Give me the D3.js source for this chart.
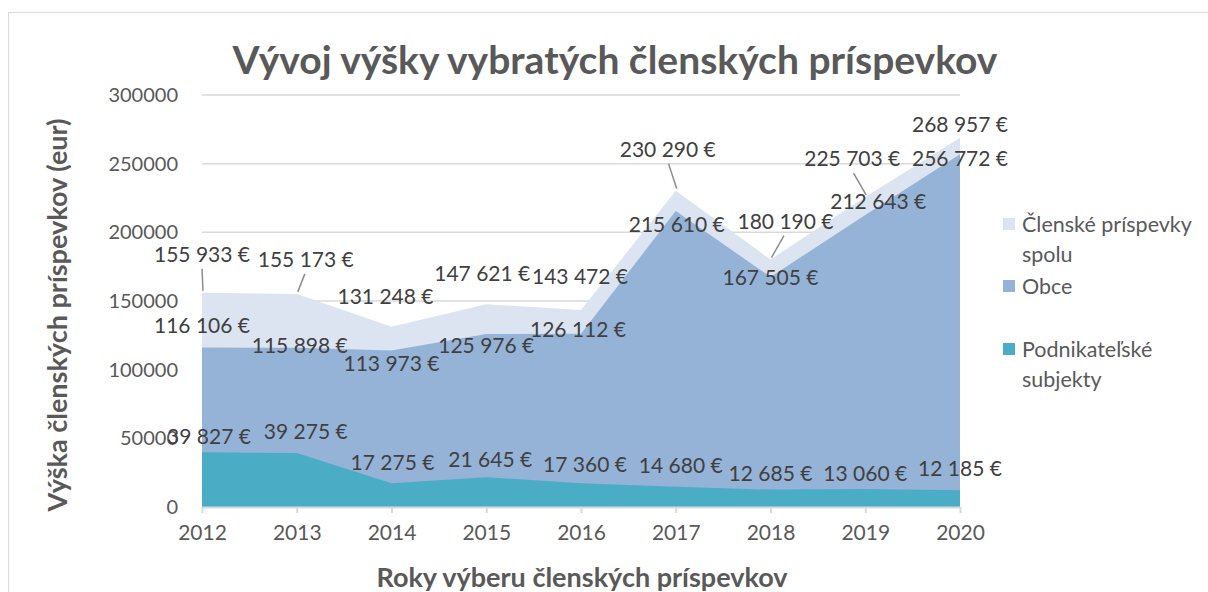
<!DOCTYPE html>
<html>
<head>
<meta charset="utf-8">
<script src="https://cdn.jsdelivr.net/npm/d3@7"></script>
<style>
  body { margin: 0; background: #fff; }
  text { font-family: Lato, "Open Sans", sans-serif; }
</style>
</head>
<body>
<div id="chart-area"></div>
<script>
// data
var years = [2012, 2013, 2014, 2015, 2016, 2017, 2018, 2019, 2020];
var spolu = [155933, 155173, 131248, 147621, 143472, 230290, 180190, 225703, 268957];
var obce = [116106, 115898, 113973, 125976, 126112, 215610, 167505, 212643, 256772];
var podnik = [39827, 39275, 17275, 21645, 17360, 14680, 12685, 13060, 12185];
var yTicks = [0, 50000, 100000, 150000, 200000, 250000, 300000];

var seriesNames = ["Členské príspevky spolu", "Obce", "Podnikateľské subjekty"];
var colors = ["#dbe4f0", "#95b3d7", "#4bacc6"];

// label offsets (dx, dy) from each point, hand placed like the original
var spoluOff = [[0,-38],[9,-34],[-6,-30],[-4,-31],[-1,-33],[-8,-41],[15,-38],[-13,-38],[0,-13]];
var obceOff = [[0,-22],[3,-2],[0,13],[0,12],[-3,-4],[1,14],[0,1],[13,-13],[0,4]];
var podnikOff = [[7,-16],[9,-21],[1,-21],[4,-18],[4,-19],[5,-21],[0,-16],[0,-15],[0,-22]];
// leader lines only for these points of the total series
var leaders = [0, 1, 5, 6, 7];

var svgWidth = 1208, svgHeight = 592;
var margin = { top: 95, left: 202, bottom: 85, right: 248 };
var width = svgWidth - margin.left - margin.right;
var height = svgHeight - margin.top - margin.bottom;

var svg = d3.select("#chart-area").append("svg")
    .attr("width", svgWidth)
    .attr("height", svgHeight);

// chart frame
svg.append("rect")
    .attr("x", 8.5).attr("y", 12.5)
    .attr("width", 1210).attr("height", 600)
    .attr("fill", "none")
    .attr("stroke", "#d9d9d9");

var graph = svg.append("g")
    .attr("transform", "translate(" + margin.left + "," + margin.top + ")");

var xScale = d3.scalePoint().domain(years).range([0, width]);
var yScale = d3.scaleLinear().domain([0, 300000]).range([height, 0]);

// gridlines
graph.append("g")
    .selectAll("line")
    .data(yTicks.slice(1))
    .enter().append("line")
    .attr("x1", 0).attr("x2", width)
    .attr("y1", d => yScale(d)).attr("y2", d => yScale(d))
    .attr("stroke", "#d9d9d9")
    .attr("stroke-width", 1.5);

// areas (overlapping, not stacked)
var allSeries = [spolu, obce, podnik];
allSeries.forEach(function(vals, i) {
    var area = d3.area()
        .x((d, j) => xScale(years[j]))
        .y0(height)
        .y1(d => yScale(d));
    graph.append("path")
        .datum(vals)
        .attr("d", area)
        .attr("fill", colors[i]);
});

// y axis
var yAxisCall = d3.axisLeft(yScale).tickValues(yTicks).tickSize(0).tickFormat(d => d);
var yAxis = graph.append("g").attr("class", "y-axis").call(yAxisCall);
yAxis.select(".domain").remove();
yAxis.selectAll("text")
    .attr("x", -24)
    .attr("fill", "#595959")
    .attr("font-size", "20px");

// x axis
var xAxisCall = d3.axisBottom(xScale).tickSize(6).tickSizeOuter(0);
var xAxis = graph.append("g")
    .attr("class", "x-axis")
    .attr("transform", "translate(0," + height + ")")
    .call(xAxisCall);
xAxis.select(".domain").attr("stroke", "#d9d9d9").attr("stroke-width", 2);
xAxis.selectAll(".tick line").attr("stroke", "#d9d9d9").attr("stroke-width", 2);
xAxis.selectAll("text")
    .attr("y", 18)
    .attr("fill", "#595959")
    .attr("font-size", "21px");

// leader lines
graph.append("g")
    .selectAll("line")
    .data(leaders)
    .enter().append("line")
    .attr("x1", i => xScale(years[i]) + spoluOff[i][0] * 0.9)
    .attr("y1", i => yScale(spolu[i]) + spoluOff[i][1] + 14)
    .attr("x2", i => xScale(years[i]) + 1)
    .attr("y2", i => yScale(spolu[i]) - 2)
    .attr("stroke", "#8c8c8c")
    .attr("stroke-width", 1.5);

// data labels
function fmt(v) {
    return d3.format(",")(v).replace(/,/g, " ") + " €";
}
var offsets = [spoluOff, obceOff, podnikOff];
allSeries.forEach(function(vals, i) {
    graph.append("g")
        .selectAll("text")
        .data(vals)
        .enter().append("text")
        .attr("x", (d, j) => xScale(years[j]) + offsets[i][j][0])
        .attr("y", (d, j) => yScale(d) + offsets[i][j][1])
        .attr("dy", "0.35em")
        .attr("text-anchor", "middle")
        .attr("fill", "#404040")
        .attr("font-size", "21px")
        .text(d => fmt(d));
});

// title
svg.append("text")
    .attr("x", 615).attr("y", 74)
    .attr("text-anchor", "middle")
    .attr("font-size", "39px")
    .attr("font-weight", "bold")
    .attr("fill", "#595959")
    .text("Vývoj výšky vybratých členských príspevkov");

// y axis label
svg.append("text")
    .attr("transform", "translate(67," + 315 + ") rotate(-90)")
    .attr("text-anchor", "middle")
    .attr("font-size", "27px")
    .attr("font-weight", "bold")
    .attr("fill", "#595959")
    .text("Výška členských príspevkov (eur)");

// x axis label
svg.append("text")
    .attr("x", 582).attr("y", 587)
    .attr("text-anchor", "middle")
    .attr("font-size", "27px")
    .attr("font-weight", "bold")
    .attr("fill", "#595959")
    .text("Roky výberu členských príspevkov");

// legend
var legendLines = [["Členské príspevky", "spolu"], ["Obce"], ["Podnikateľské", "subjekty"]];
var legendY = [218, 280, 343];
var legend = svg.append("g").attr("class", "legend");
legendLines.forEach(function(lines, i) {
    legend.append("rect")
        .attr("x", 1003).attr("y", legendY[i])
        .attr("width", 12).attr("height", 12)
        .attr("fill", colors[i]);
    lines.forEach(function(t, k) {
        legend.append("text")
            .attr("x", 1022)
            .attr("y", legendY[i] + 6 + k * 30)
            .attr("dy", "0.35em")
            .attr("font-size", "21.5px")
            .attr("fill", "#595959")
            .text(t);
    });
});
</script>
</body>
</html>
